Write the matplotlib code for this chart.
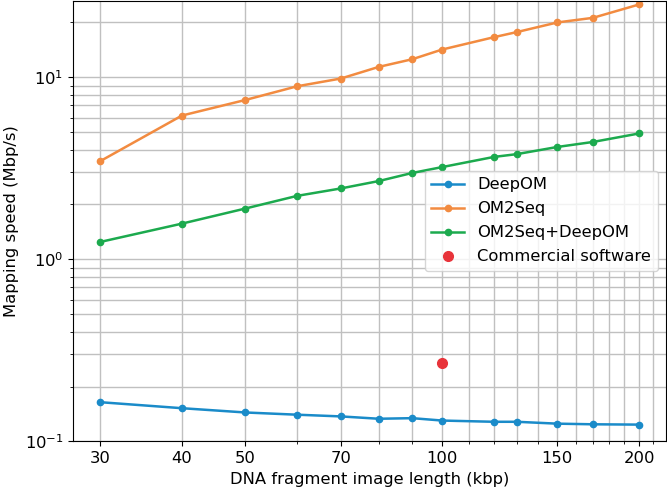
import matplotlib
matplotlib.use("Agg")
import matplotlib.pyplot as plt
from matplotlib.ticker import FixedLocator, FixedFormatter, MultipleLocator, NullFormatter

# fragment lengths (kbp)
lengths = [30, 40, 50, 60, 70, 80, 90, 100, 120, 130, 150, 170, 200]

# mapping speed (Mbp/s)
deepom = [0.164, 0.152, 0.144, 0.140, 0.137, 0.133, 0.134, 0.130, 0.128, 0.128, 0.125, 0.124, 0.1235]
om2seq = [3.46, 6.16, 7.50, 8.92, 9.84, 11.4, 12.56, 14.2, 16.6, 17.7, 20.0, 21.2, 25.1]
om2seq_deepom = [1.245, 1.57, 1.90, 2.23, 2.45, 2.69, 2.98, 3.21, 3.65, 3.78, 4.14, 4.41, 4.91]

commercial_x = [100]
commercial_y = [0.27]

xtick_vals = [30, 40, 50, 70, 100, 150, 200]
xtick_labels = ["30", "40", "50", "70", "100", "150", "200"]

plt.rcParams["font.size"] = 11.8

fig = plt.figure(figsize=(6.67, 4.92), dpi=100)
ax = fig.add_axes([73.3 / 667, 1 - 441.3 / 492, (666 - 73.3) / 667, (441.3 - 0.5) / 492])

ax.plot(lengths, deepom, "o-", color="#1a8bc9", lw=1.8, ms=4.5, label="DeepOM")
ax.plot(lengths, om2seq, "o-", color="#f28b40", lw=1.8, ms=4.5, label="OM2Seq")
ax.plot(lengths, om2seq_deepom, "o-", color="#1caa4e", lw=1.8, ms=4.5, label="OM2Seq+DeepOM")
ax.plot(commercial_x, commercial_y, "o", color="#e8333a", ms=7, linestyle="none",
        label="Commercial software")

ax.set_xscale("log")
ax.set_yscale("log")
ax.set_ylim(0.1, 26.4)

ax.xaxis.set_major_locator(FixedLocator(xtick_vals))
ax.xaxis.set_major_formatter(FixedFormatter(xtick_labels))
ax.xaxis.set_minor_locator(MultipleLocator(10))
ax.xaxis.set_minor_formatter(NullFormatter())

ax.grid(True, which="both", color="#c0c0c0", lw=1.0)
ax.set_axisbelow(True)

ax.set_xlabel("DNA fragment image length (kbp)")
ax.set_ylabel("Mapping speed (Mbp/s)")
ax.legend(loc="center right", labelspacing=0.55)

fig.savefig("out.png", dpi=100)
